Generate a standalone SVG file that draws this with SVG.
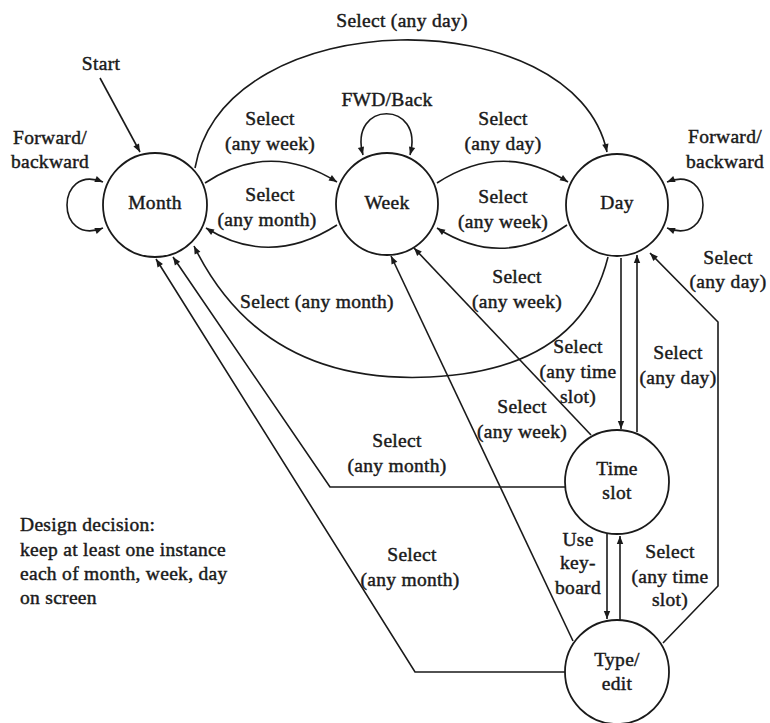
<svg xmlns="http://www.w3.org/2000/svg" width="770" height="723" viewBox="0 0 770 723">
<style>
  text { font-family: "Liberation Serif", "DejaVu Serif", serif; font-size: 19.5px; letter-spacing: 0.3px; fill: #1a1a1a; text-anchor: middle; stroke: #1a1a1a; stroke-width: 0.45px; }
  .node circle { fill: #ffffff; stroke: #1a1a1a; stroke-width: 1.8; }
  .edge { fill: none; stroke: #1a1a1a; stroke-width: 1.6; marker-end: url(#arr); }
  .loop { marker-start: url(#arrs); }
  .note text { text-anchor: start; }
</style>
<defs>
  <marker id="arr" viewBox="0 0 10 10" refX="10" refY="5" markerWidth="11" markerHeight="8" orient="auto" markerUnits="userSpaceOnUse">
    <path d="M0,1 L10,5 L0,9 z" fill="#1a1a1a"/>
  </marker>
  <marker id="arrs" viewBox="0 0 10 10" refX="10" refY="5" markerWidth="11" markerHeight="8" orient="auto-start-reverse" markerUnits="userSpaceOnUse">
    <path d="M0,1 L10,5 L0,9 z" fill="#1a1a1a"/>
  </marker>
</defs>
<rect width="770" height="723" fill="#ffffff"/>

<g id="connectors">
  <path class="edge" d="M100,78 L140,152"/>
  <path class="edge loop" d="M103,182 C 55,163 55,247 103,228"/>
  <path class="edge" d="M195,168 C 225,0 575,0 607,152"/>
  <path class="edge" d="M205,183 Q270,140 337,182"/>
  <path class="edge" d="M337,225 Q270,268 206,228"/>
  <path class="edge loop" d="M363,155 C 348,100 425,100 410,155"/>
  <path class="edge" d="M437,183 Q503,140 568,182"/>
  <path class="edge" d="M567,225 Q502,270 437,228"/>
  <path class="edge loop" d="M667,182 C 715,163 715,247 667,228"/>
  <path class="edge" d="M608,257 Q580,370 430,377 Q262,385 194,246"/>
  <path class="edge" d="M621,258 L621,429"/>
  <path class="edge" d="M637,432 L637,255"/>
  <path class="edge" d="M663,643 L718,586 L718,322 L650,253"/>
  <path class="edge" d="M591,435 L414,248"/>
  <path class="edge" d="M573,641 L391,256"/>
  <path class="edge" d="M565,487 L330,487 L173,257"/>
  <path class="edge" d="M565,672 L415,672 L156,259"/>
  <path class="edge" d="M607,534 L607,619"/>
  <path class="edge" d="M620,620 L620,536"/>
</g>

<g id="edge-labels">
  <text x="101" y="70">Start</text>
  <text x="50" y="144">Forward/</text>
  <text x="50" y="168">backward</text>
  <text x="402" y="27">Select (any day)</text>
  <text x="270" y="125">Select</text>
  <text x="270" y="150">(any week)</text>
  <text x="270" y="201">Select</text>
  <text x="267" y="226">(any month)</text>
  <text x="387" y="106">FWD/Back</text>
  <text x="503" y="125">Select</text>
  <text x="503" y="150">(any day)</text>
  <text x="503" y="203">Select</text>
  <text x="503" y="228">(any week)</text>
  <text x="725" y="143">Forward/</text>
  <text x="725" y="168">backward</text>
  <text x="317" y="308">Select (any month)</text>
  <text x="517" y="283">Select</text>
  <text x="517" y="308">(any week)</text>
  <text x="728" y="264">Select</text>
  <text x="728" y="288">(any day)</text>
  <text x="578" y="353">Select</text>
  <text x="578" y="378">(any time</text>
  <text x="578" y="403">slot)</text>
  <text x="678" y="359">Select</text>
  <text x="678" y="384">(any day)</text>
  <text x="522" y="413">Select</text>
  <text x="522" y="438">(any week)</text>
  <text x="397" y="447">Select</text>
  <text x="397" y="472">(any month)</text>
  <text x="412" y="561">Select</text>
  <text x="410" y="586">(any month)</text>
  <text x="578" y="546">Use</text>
  <text x="578" y="569">key-</text>
  <text x="578" y="594">board</text>
  <text x="670" y="558">Select</text>
  <text x="670" y="583">(any time</text>
  <text x="670" y="606">slot)</text>
</g>

<g id="month" class="node">
  <circle cx="155" cy="205" r="52"/>
  <text x="155" y="209">Month</text>
</g>
<g id="week" class="node">
  <circle cx="387" cy="204" r="51"/>
  <text x="387" y="209">Week</text>
</g>
<g id="day" class="node">
  <circle cx="617" cy="205" r="51"/>
  <text x="617" y="209">Day</text>
</g>
<g id="timeslot" class="node">
  <circle cx="617" cy="482" r="52"/>
  <text x="617" y="475">Time</text>
  <text x="617" y="499">slot</text>
</g>
<g id="typeedit" class="node">
  <circle cx="617" cy="672" r="52"/>
  <text x="617" y="666">Type/</text>
  <text x="617" y="690">edit</text>
</g>

<g id="note" class="note">
  <text x="20" y="531">Design decision:</text>
  <text x="20" y="556">keep at least one instance</text>
  <text x="20" y="580">each of month, week, day</text>
  <text x="20" y="604">on screen</text>
</g>
</svg>
